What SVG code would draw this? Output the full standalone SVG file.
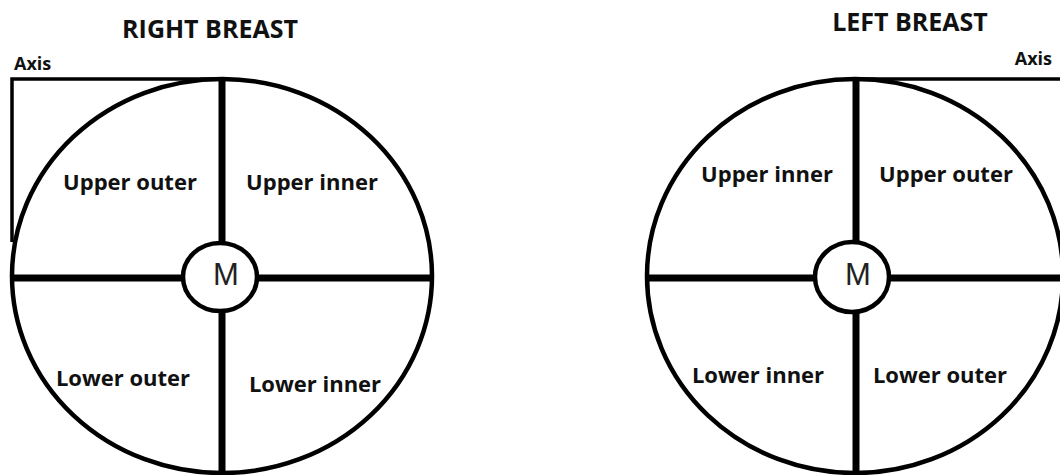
<svg xmlns="http://www.w3.org/2000/svg" width="1060" height="475" viewBox="0 0 1060 475">
<style>
.outline{fill:none;stroke:#000;stroke-width:4.5}
.axis{fill:none;stroke:#000;stroke-width:3.5}
.div{stroke:#000;stroke-width:7;fill:none}
.nip{fill:#fff;stroke:#000;stroke-width:4.5}
.title{font-family:"Open Sans","Liberation Sans",sans-serif;font-weight:bold;font-size:25px;fill:#111;text-anchor:middle}
.lbl{font-family:"Open Sans","Liberation Sans",sans-serif;font-weight:bold;font-size:22px;fill:#111;text-anchor:middle}
.ax{font-family:"Open Sans","Liberation Sans",sans-serif;font-weight:bold;font-size:18px;fill:#111}
.m{font-family:"Liberation Sans",Arial,sans-serif;font-size:31px;fill:#222;text-anchor:middle}
</style>
<rect width="1060" height="475" fill="#fff"/>
<g id="right-breast">
  <text class="title" x="210" y="38">RIGHT BREAST</text>
  <text class="ax" x="14" y="70">Axis</text>
  <path class="axis" d="M12,242 L12,79 L222,79"/>
  <ellipse class="outline" cx="222" cy="276" rx="210" ry="197"/>
  <g id="right-connectors">
    <line class="div" x1="222" y1="79" x2="222" y2="475"/>
    <line class="div" x1="12" y1="278" x2="432" y2="278"/>
  </g>
  <g id="right-nipple">
    <ellipse class="nip" cx="220" cy="277" rx="37" ry="34"/>
    <text class="m" x="226" y="285">M</text>
  </g>
  <g id="right-upper-outer"><text class="lbl" x="130" y="190">Upper outer</text></g>
  <g id="right-upper-inner"><text class="lbl" x="312" y="190">Upper inner</text></g>
  <g id="right-lower-outer"><text class="lbl" x="123" y="386">Lower outer</text></g>
  <g id="right-lower-inner"><text class="lbl" x="315" y="392">Lower inner</text></g>
</g>
<g id="left-breast">
  <text class="title" x="910" y="31">LEFT BREAST</text>
  <text class="ax" x="1052" y="65" text-anchor="end">Axis</text>
  <path class="axis" d="M855,79 L1060,79"/>
  <ellipse class="outline" cx="855" cy="276" rx="208" ry="197"/>
  <g id="left-connectors">
    <line class="div" x1="856" y1="79" x2="856" y2="475"/>
    <line class="div" x1="647" y1="278" x2="1060" y2="278"/>
  </g>
  <g id="left-nipple">
    <ellipse class="nip" cx="852" cy="277" rx="37" ry="35"/>
    <text class="m" x="858" y="285">M</text>
  </g>
  <g id="left-upper-inner"><text class="lbl" x="767" y="182">Upper inner</text></g>
  <g id="left-upper-outer"><text class="lbl" x="946" y="182">Upper outer</text></g>
  <g id="left-lower-inner"><text class="lbl" x="758" y="383">Lower inner</text></g>
  <g id="left-lower-outer"><text class="lbl" x="940" y="383">Lower outer</text></g>
</g>
</svg>
